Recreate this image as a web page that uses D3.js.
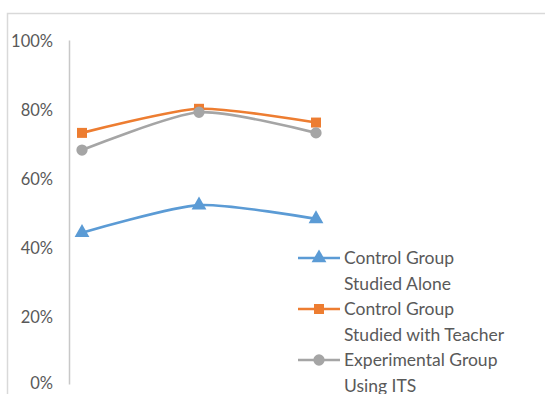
<!DOCTYPE html>
<html>
<head>
<meta charset="utf-8">
<script src="https://cdn.jsdelivr.net/npm/d3@7/dist/d3.min.js"></script>
<style>
  html, body { margin: 0; padding: 0; background: #fff; }
  svg { display: block; }
  text { font-family: Lato, "Open Sans", sans-serif; fill: #595959; }
</style>
</head>
<body>
<svg id="chart" width="545" height="394"></svg>
<script>
// Category positions along the x axis
const categories = ["Test 1", "Test 2", "Test 3"];

// Share of correct answers per group (%)
const studiedAlone = [44, 52, 48];
const studiedWithTeacher = [73, 80, 76];
const usingITS = [68, 79, 73];

const yTicks = [0, 20, 40, 60, 80, 100];

const seriesNames = [
  ["Control Group", "Studied Alone"],
  ["Control Group", "Studied with Teacher"],
  ["Experimental Group", "Using ITS"]
];

const series = [
  { name: seriesNames[0], values: studiedAlone, color: "#5B9BD5", symbol: d3.symbolTriangle, size: 95 },
  { name: seriesNames[1], values: studiedWithTeacher, color: "#ED7D31", symbol: d3.symbolSquare, size: 100 },
  { name: seriesNames[2], values: usingITS, color: "#A5A5A5", symbol: d3.symbolCircle, size: 100 }
];

const svg = d3.select("#chart");

// Outer chart frame (top and left edges visible)
svg.append("path")
  .attr("d", "M7.5,394 V13.5 H545")
  .attr("fill", "none")
  .attr("stroke", "#D9D9D9")
  .attr("stroke-width", 1.5);

const x = d3.scalePoint().domain(categories).range([82, 316]);
const y = d3.scaleLinear().domain([0, 100]).range([384, 40]);

// Vertical value axis
const yAxis = d3.axisLeft(y)
  .tickValues(yTicks)
  .tickSize(0)
  .tickPadding(16)
  .tickFormat(d => d + "%");

const gY = svg.append("g").attr("transform", "translate(69,0)").call(yAxis);
gY.select(".domain").attr("stroke", "#C8C8C8").attr("stroke-width", 1.5);
gY.selectAll(".tick text")
  .attr("font-size", 16.5)
  .attr("fill", "#595959")
  .attr("font-family", "Lato, Open Sans, sans-serif")
  .attr("dy", d => d === 0 ? "0.3em" : "0.42em");

const line = d3.line()
  .x((d, i) => x(categories[i]))
  .y(d => y(d))
  .curve(d3.curveCardinal.tension(0.3));

series.forEach(s => {
  const g = svg.append("g");
  g.append("path")
    .attr("d", line(s.values))
    .attr("fill", "none")
    .attr("stroke", s.color)
    .attr("stroke-width", 2.6)
    .attr("stroke-linejoin", "round");
  g.selectAll("path.marker")
    .data(s.values)
    .join("path")
    .attr("class", "marker")
    .attr("transform", (d, i) => `translate(${x(categories[i])},${y(d)})`)
    .attr("d", d3.symbol().type(s.symbol).size(s.size))
    .attr("fill", s.color);
});

// Legend
const legend = svg.append("g").attr("transform", "translate(298,0)");
series.forEach((s, i) => {
  const cy = 258 + i * 51;
  const item = legend.append("g");
  item.append("line")
    .attr("x1", 0).attr("x2", 42)
    .attr("y1", cy).attr("y2", cy)
    .attr("stroke", s.color).attr("stroke-width", 2.6);
  item.append("path")
    .attr("transform", `translate(21,${cy})`)
    .attr("d", d3.symbol().type(s.symbol).size(s.size))
    .attr("fill", s.color);
  s.name.forEach((t, j) => {
    item.append("text")
      .attr("x", 46)
      .attr("y", cy + j * 25.5)
      .attr("dy", "0.36em")
      .attr("font-size", 17.5)
      .text(t);
  });
});
</script>
</body>
</html>
